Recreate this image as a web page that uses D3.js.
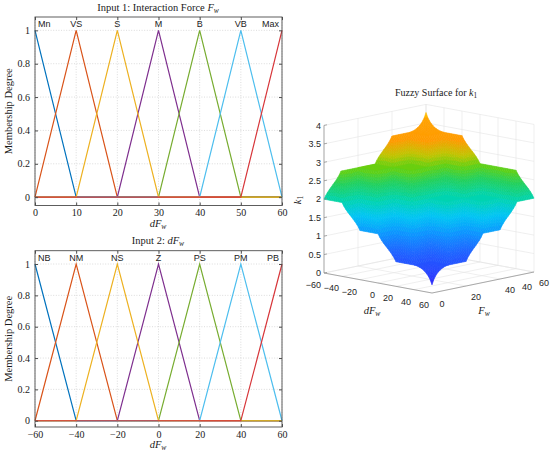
<!DOCTYPE html>
<html>
<head>
<meta charset="utf-8">
<script src="https://cdn.jsdelivr.net/npm/d3@7"></script>
<style>
  body { margin: 0; background: #fff; }
  svg { display: block; }
</style>
</head>
<body>
<svg id="chart" width="550" height="451"></svg>
<script>
const svg = d3.select("#chart");

const serif = "'Liberation Serif', 'Times New Roman', serif";
const sans = "'Liberation Sans', Arial, sans-serif";

// Input 1: interaction force Fw
const fwNames = ["Mn", "VS", "S", "M", "B", "VB", "Max"];
const fwPeaks = [0, 10, 20, 30, 40, 50, 60];
const fwTicks = [0, 10, 20, 30, 40, 50, 60];

// Input 2: dFw
const dfwNames = ["NB", "NM", "NS", "Z", "PS", "PM", "PB"];
const dfwPeaks = [-60, -40, -20, 0, 20, 40, 60];
const dfwTicks = [-60, -40, -20, 0, 20, 40, 60];

const degreeTicks = [0, 0.2, 0.4, 0.6, 0.8, 1];

const mfColors = ["#0072bd", "#d95319", "#edb120", "#7e2f8e", "#77ac30", "#4dbeee", "#d7363a"];
// yellow sits on top of the zero line between the last two peaks
const drawOrder = [0, 1, 3, 4, 5, 2, 6];

// Output k1: centres of the 7 output sets, and the rule table
// (rows: dFw set NB..PB, columns: Fw set Mn..Max, value: output set index)
const kCenters = [0, 2 / 3, 4 / 3, 2, 8 / 3, 10 / 3, 4];
const ruleTable = [
  [3, 4, 4, 4, 5, 5, 6],
  [3, 3, 4, 4, 4, 5, 5],
  [2, 3, 3, 4, 4, 4, 5],
  [2, 2, 3, 3, 3, 4, 4],
  [1, 2, 2, 3, 3, 3, 4],
  [1, 1, 2, 2, 3, 3, 4],
  [0, 1, 1, 2, 2, 3, 3],
];

// surface axes
const zTicks = [0, 0.5, 1, 1.5, 2, 2.5, 3, 3.5, 4];
const surfFGrid = [0, 20, 40, 60];
const surfFLabelAt = [0, 20, 40, 50, 60];
const surfFLabels = ["0", "20", "40", "40", "60"];
const surfDTicks = [-60, -40, -20, 0, 20, 40, 60];

const surfStops = [0, 0.4, 0.9, 1.3, 1.65, 2.0, 2.35, 2.65, 2.9, 3.2, 3.6, 3.85];
const surfColors = ["#3c0ae6", "#2a3cff", "#1e64ff", "#0a96ff", "#00c4f4", "#00d4b0",
  "#20d060", "#64d010", "#c0c400", "#ff9a00", "#ffa200", "#ffe800"];

function tri(v, a, b, c) {
  if (v === b) return 1;
  if (v <= a || v >= c) return 0;
  return v < b ? (v - a) / (b - a) : (c - v) / (c - b);
}

function label(sel, parts) {
  parts.forEach((p) => {
    const t = sel.append("tspan").text(p.t);
    if (p.i) t.attr("font-style", "italic");
    if (p.sub) t.attr("font-size", "72%").attr("dy", "0.3em");
  });
}

function mfPanel(o) {
  const x = d3.scaleLinear().domain(o.domain).range([35, 282]);
  const y = d3.scaleLinear().domain(o.yDomain).range([o.bottom, o.top]);
  const g = svg.append("g");

  g.selectAll("line.gx").data(o.ticks).join("line")
    .attr("x1", (d) => x(d)).attr("x2", (d) => x(d))
    .attr("y1", o.top).attr("y2", o.bottom)
    .attr("stroke", "#cdcdcd").attr("stroke-width", 0.7).attr("stroke-dasharray", "1,1.6");
  g.selectAll("line.gy").data(degreeTicks).join("line")
    .attr("x1", 35).attr("x2", 282)
    .attr("y1", (d) => y(d)).attr("y2", (d) => y(d))
    .attr("stroke", "#cdcdcd").attr("stroke-width", 0.7).attr("stroke-dasharray", "1,1.6");

  const step = o.peaks[1] - o.peaks[0];
  const line = d3.line().x((d) => x(d[0])).y((d) => y(d[1]));
  drawOrder.forEach((i) => {
    const a = o.peaks[i] - step, b = o.peaks[i], c = o.peaks[i] + step;
    const xs = Array.from(new Set([o.domain[0], a, b, c, o.domain[1]]))
      .filter((v) => v >= o.domain[0] && v <= o.domain[1])
      .sort((p, q) => p - q);
    g.append("path")
      .attr("d", line(xs.map((v) => [v, tri(v, a, b, c)])))
      .attr("fill", "none").attr("stroke", mfColors[i]).attr("stroke-width", 1.2);
  });

  g.selectAll("text.mf").data(o.names).join("text")
    .attr("x", (d, i) => x(o.peaks[i]) + (i === 0 ? 3 : i === o.names.length - 1 ? -3 : 0))
    .attr("y", o.top + 10)
    .attr("text-anchor", (d, i) => (i === 0 ? "start" : i === o.names.length - 1 ? "end" : "middle"))
    .attr("font-family", sans).attr("font-size", 9).attr("fill", "#222")
    .text((d) => d);

  const axes = [
    [d3.axisBottom(x).tickValues(o.ticks).tickSize(-3).tickPadding(3.5).tickFormat(d3.format("d")), `translate(0,${o.bottom})`],
    [d3.axisTop(x).tickValues(o.ticks).tickSize(-3).tickFormat(""), `translate(0,${o.top})`],
    [d3.axisLeft(y).tickValues(degreeTicks).tickSize(-3).tickPadding(5).tickFormat((d) => d), "translate(35,0)"],
    [d3.axisRight(y).tickValues(degreeTicks).tickSize(-3).tickFormat(""), "translate(282,0)"],
  ];
  axes.forEach(([ax, tr]) => {
    g.append("g").attr("transform", tr).call(ax)
      .call((s) => s.select(".domain").remove())
      .call((s) => s.selectAll("line").attr("stroke", "#4d4d4d"))
      .call((s) => s.selectAll("text").attr("font-family", serif).attr("font-size", 10).attr("fill", "#1a1a1a"));
  });

  g.append("rect").attr("x", 35).attr("y", o.top).attr("width", 247).attr("height", o.bottom - o.top)
    .attr("fill", "none").attr("stroke", "#4d4d4d").attr("stroke-width", 0.9);

  g.append("text").attr("x", 158).attr("y", o.titleY).attr("text-anchor", "middle")
    .attr("font-family", serif).attr("font-size", 10.5).attr("fill", "#1a1a1a")
    .call(label, o.title);
  g.append("text").attr("x", 158).attr("y", o.xlabelY).attr("text-anchor", "middle")
    .attr("font-family", serif).attr("font-size", 10.5).attr("fill", "#1a1a1a")
    .call(label, [{ t: "dF", i: true }, { t: "w", i: true, sub: true }]);
  g.append("text")
    .attr("transform", `translate(12,${(o.top + o.bottom) / 2}) rotate(-90)`)
    .attr("text-anchor", "middle")
    .attr("font-family", serif).attr("font-size", 10.5).attr("fill", "#1a1a1a")
    .text("Membership Degree");
}

mfPanel({
  domain: [0, 60], yDomain: [-0.05, 1.08], top: 17, bottom: 205.5,
  peaks: fwPeaks, names: fwNames, ticks: fwTicks,
  titleY: 11, xlabelY: 227,
  title: [{ t: "Input 1: Interaction Force " }, { t: "F", i: true }, { t: "w", i: true, sub: true }],
});
mfPanel({
  domain: [-60, 60], yDomain: [-0.04, 1.085], top: 250.7, bottom: 427,
  peaks: dfwPeaks, names: dfwNames, ticks: dfwTicks,
  titleY: 244, xlabelY: 447.5,
  title: [{ t: "Input 2: " }, { t: "dF", i: true }, { t: "w", i: true, sub: true }],
});

// ---------- fuzzy surface ----------
const fS = d3.scaleLinear().domain([0, 60]).range([0, 1]);
const dS = d3.scaleLinear().domain([-60, 60]).range([0, 1]);
const zS = d3.scaleLinear().domain([0, 4]).range([0, 147.6]);
const view = { ox: 324, oy: 273, ux: 102, uy: -21, vx: 108, vy: 20 };

function proj(F, dF, z) {
  const f = fS(F), d = dS(dF);
  return [view.ox + view.ux * f + view.vx * d, view.oy + view.uy * f + view.vy * d - zS(z)];
}

const fStep = fwPeaks[1] - fwPeaks[0];
const dStep = dfwPeaks[1] - dfwPeaks[0];
const kStep = kCenters[1] - kCenters[0];
const ySamples = d3.range(0, 4.0001, 0.01);

function infer(F, dF) {
  const mu = fwPeaks.map((p) => tri(F, p - fStep, p, p + fStep));
  const nu = dfwPeaks.map((p) => tri(dF, p - dStep, p, p + dStep));
  const h = kCenters.map(() => 0);
  ruleTable.forEach((row, j) => row.forEach((lvl, i) => {
    h[lvl] = Math.max(h[lvl], Math.min(mu[i], nu[j]));
  }));
  let num = 0, den = 0;
  ySamples.forEach((yv) => {
    let m = 0;
    kCenters.forEach((c, l) => {
      if (h[l] > 0) m = Math.max(m, Math.min(h[l], tri(yv, c - kStep, c, c + kStep)));
    });
    num += yv * m;
    den += m;
  });
  return den > 0 ? num / den : 2;
}

const gridF = d3.range(0, 60.001, 1);
const gridD = d3.range(-60, 60.001, 2);
const zGrid = gridD.map((dF) => gridF.map((F) => infer(F, dF)));

const color = d3.scaleLinear().domain(surfStops).range(surfColors).clamp(true);

const g3 = svg.append("g");
const gridSegs = [];
zTicks.forEach((z) => {
  gridSegs.push([proj(0, -60, z), proj(60, -60, z)]);
  gridSegs.push([proj(60, -60, z), proj(60, 60, z)]);
});
surfFGrid.forEach((F) => {
  gridSegs.push([proj(F, -60, 0), proj(F, -60, 4)]);
  gridSegs.push([proj(F, -60, 0), proj(F, 60, 0)]);
});
surfDTicks.forEach((dF) => {
  gridSegs.push([proj(60, dF, 0), proj(60, dF, 4)]);
  gridSegs.push([proj(0, dF, 0), proj(60, dF, 0)]);
});
g3.selectAll("line.grid").data(gridSegs).join("line")
  .attr("x1", (d) => d[0][0]).attr("y1", (d) => d[0][1])
  .attr("x2", (d) => d[1][0]).attr("y2", (d) => d[1][1])
  .attr("stroke", "#e4e4e4").attr("stroke-width", 0.6);

const axisSegs = [
  [proj(0, -60, 0), proj(0, -60, 4)],
  [proj(0, -60, 0), proj(0, 60, 0)],
  [proj(0, 60, 0), proj(60, 60, 0)],
];
g3.selectAll("line.ax").data(axisSegs).join("line")
  .attr("x1", (d) => d[0][0]).attr("y1", (d) => d[0][1])
  .attr("x2", (d) => d[1][0]).attr("y2", (d) => d[1][1])
  .attr("stroke", "#8a8a8a").attr("stroke-width", 0.7);

// surface quads, back to front
const quads = [];
for (let j = 0; j < gridD.length - 1; j++) {
  for (let i = 0; i < gridF.length - 1; i++) {
    const c = [[i, j], [i + 1, j], [i + 1, j + 1], [i, j + 1]];
    const pts = c.map(([a, b]) => proj(gridF[a], gridD[b], zGrid[b][a]));
    const zm = d3.mean(c, ([a, b]) => zGrid[b][a]);
    const depth = view.uy * fS((gridF[i] + gridF[i + 1]) / 2) + view.vy * dS((gridD[j] + gridD[j + 1]) / 2);
    quads.push({ pts, zm, depth });
  }
}
quads.sort((a, b) => a.depth - b.depth);
g3.append("g").selectAll("path").data(quads).join("path")
  .attr("d", (d) => "M" + d.pts.map((p) => p[0].toFixed(2) + "," + p[1].toFixed(2)).join("L") + "Z")
  .attr("fill", (d) => color(d.zm))
  .attr("stroke", (d) => color(d.zm))
  .attr("stroke-width", 0.6)
  .attr("stroke-linejoin", "round");

// z ticks and labels
g3.selectAll("text.zt").data(zTicks).join("text")
  .attr("x", (d) => proj(0, -60, d)[0] - 3)
  .attr("y", (d) => proj(0, -60, d)[1] + 3.2)
  .attr("text-anchor", "end")
  .attr("font-family", sans).attr("font-size", 9).attr("fill", "#262626")
  .text((d) => d);
g3.selectAll("line.zt").data(zTicks).join("line")
  .attr("x1", (d) => proj(0, -60, d)[0]).attr("y1", (d) => proj(0, -60, d)[1])
  .attr("x2", (d) => proj(0, -60, d)[0] + 3).attr("y2", (d) => proj(0, -60, d)[1] - 0.6)
  .attr("stroke", "#8a8a8a").attr("stroke-width", 0.7);

g3.selectAll("text.dt").data(surfDTicks).join("text")
  .attr("x", (d) => proj(0, d, 0)[0] - 3)
  .attr("y", (d) => proj(0, d, 0)[1] + 15)
  .attr("text-anchor", "end")
  .attr("font-family", sans).attr("font-size", 9).attr("fill", "#262626")
  .text((d) => d3.format("d")(d));

g3.selectAll("text.ft").data(surfFLabelAt).join("text")
  .attr("x", (d) => proj(d, 60, 0)[0] + 10)
  .attr("y", (d) => proj(d, 60, 0)[1] + 14)
  .attr("text-anchor", "middle")
  .attr("font-family", sans).attr("font-size", 9).attr("fill", "#262626")
  .text((d, i) => surfFLabels[i]);

g3.append("text").attr("x", 436).attr("y", 96).attr("text-anchor", "middle")
  .attr("font-family", serif).attr("font-size", 10).attr("fill", "#1a1a1a")
  .call(label, [{ t: "Fuzzy Surface for " }, { t: "k", i: true }, { t: "1", sub: true }]);
g3.append("text").attr("x", 372).attr("y", 314).attr("text-anchor", "middle")
  .attr("font-family", serif).attr("font-size", 10.5).attr("fill", "#1a1a1a")
  .call(label, [{ t: "dF", i: true }, { t: "w", i: true, sub: true }]);
g3.append("text").attr("x", 484).attr("y", 314).attr("text-anchor", "middle")
  .attr("font-family", serif).attr("font-size", 10.5).attr("fill", "#1a1a1a")
  .call(label, [{ t: "F", i: true }, { t: "w", i: true, sub: true }]);
g3.append("text").attr("transform", "translate(301,200) rotate(-90)").attr("text-anchor", "middle")
  .attr("font-family", serif).attr("font-size", 10.5).attr("fill", "#1a1a1a")
  .call(label, [{ t: "k", i: true }, { t: "1", sub: true }]);
</script>
</body>
</html>
